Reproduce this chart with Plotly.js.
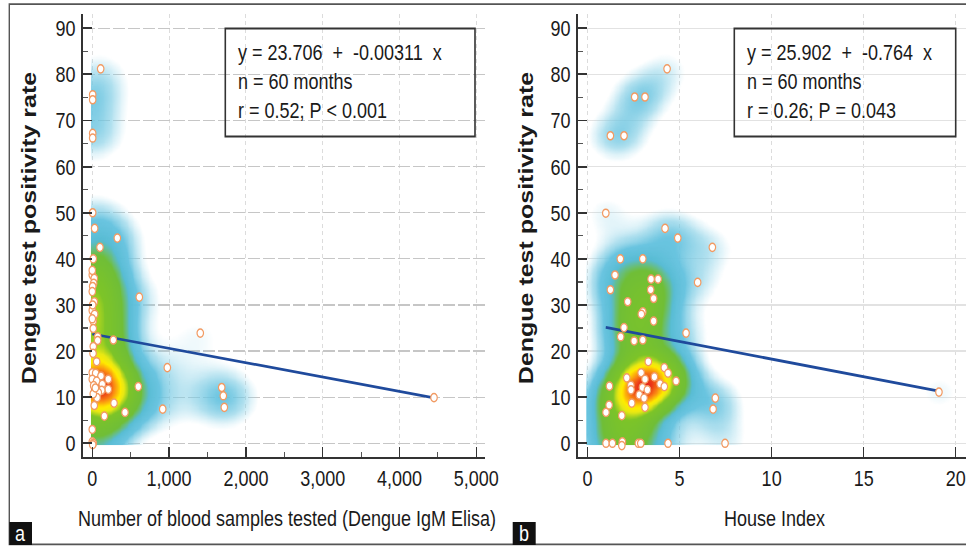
<!DOCTYPE html>
<html><head><meta charset="utf-8">
<script src="https://cdn.plot.ly/plotly-3.0.1.min.js"></script>
<style>
html,body{margin:0;padding:0;background:#fff;overflow:hidden;}
#wrap{width:966px;height:546px;overflow:hidden;position:relative;}
#chart{width:966px;height:437px;transform:scaleY(1.24943);transform-origin:0 0;}
</style></head><body><div id="wrap"><div id="chart"></div></div>
<script>
// ---------- data ----------
const samplesX = [109,5,5,5,5,5,31,326,100,13,0,26,18,5,0,26,612,0,31,13,13,1406,70,70,274,57,977,0,44,113,0,208,57,18,130,208,122,78,62,13,26,599,1685,1706,1719,917,283,426,157,0,13,5,4449,0,5,0,13,40,0,10];
const samplesY = [81.2,75.6,74.5,67.2,66.2,50.0,46.6,44.5,42.5,40.0,36.5,35.8,34.7,34.0,32.9,30.7,31.7,28.8,28.0,26.5,24.9,23.9,23.1,22.3,22.4,17.7,16.4,15.3,15.2,14.6,13.9,13.9,13.5,12.5,12.8,11.7,11.5,11.0,9.9,10.7,8.2,12.3,12.1,10.3,7.8,7.4,8.7,6.7,5.9,0.3,0.0,-0.3,9.9,37.5,30.0,27.0,21.0,12.0,3.0,19.5];
const houseX = [4.32,2.56,3.12,1.24,1.98,0.99,4.21,4.90,6.78,1.78,3.00,1.49,3.45,3.83,1.24,3.43,3.59,5.98,2.18,3.00,2.92,3.59,1.98,1.80,5.35,2.53,3.00,3.30,4.17,4.37,2.91,3.63,2.13,4.81,3.12,3.94,1.19,2.35,2.36,2.98,3.25,4.17,2.81,3.07,6.94,2.40,1.17,3.12,6.82,1.00,1.86,1.00,1.35,1.89,1.86,2.76,2.89,4.37,7.47,19.09];
const houseY = [81.2,75.1,75.1,66.7,66.7,49.9,46.6,44.5,42.5,40.0,40.0,36.5,35.6,35.6,33.3,33.3,31.4,34.9,30.7,28.5,28.0,26.5,25.1,23.1,23.9,22.2,22.4,17.7,16.4,15.2,15.3,14.4,14.2,13.5,13.9,12.9,12.4,12.6,11.6,12.1,11.6,12.3,10.5,9.8,9.8,8.7,8.3,7.8,7.4,6.7,6.0,0,0,0.3,-0.5,0,0,0,0,11.1];
const fitA = [23.706, -0.00311];   // intercept, slope
const fitB = [25.902, -0.764];
const statsA = ["y = 23.706  +  -0.00311  x", "n = 60 months", "r = 0.52; P < 0.001"];
const statsB = ["y = 25.902  +  -0.764  x", "n = 60 months", "r = 0.26; P = 0.043"];
const yTicks = [0,10,20,30,40,50,60,70,80,90];
const xTicksA = [0,1000,2000,3000,4000,5000];
const xTickTextA = ["0","1,000","2,000","3,000","4,000","5,000"];
const xTicksB = [0,5,10,15,20];
const yTitle = "Dengue test positivity rate";
const xTitleA = "Number of blood samples tested (Dengue IgM Elisa)";
const xTitleB = "House Index";

// ---------- geometry (final 966x546 pixel frame) ----------
const W = 966, H = 546;
const rangeXA = [-121, 5113], rangeXB = [-0.52, 20.56], rangeY = [-2.97, 93.1];
const domXA = [83/W, 485/W], domXB = [578/W, 1], domY = [(H-457)/H, (H-14)/H];

function kde(xs, ys, xr, yr, pxW, pxH, sx, sy, nx, ny) {
  const kx = pxW/(xr[1]-xr[0]), ky = pxH/(yr[1]-yr[0]);
  const gx = [], gy = [], z = [];
  for (let i=0;i<nx;i++) gx.push(xr[1]*i/(nx-1));
  for (let j=0;j<ny;j++) gy.push(yr[1]*j/(ny-1));
  let mx = 0;
  for (let j=0;j<ny;j++) {
    const row = [];
    for (let i=0;i<nx;i++) {
      let s = 0;
      for (let k=0;k<xs.length;k++) {
        const dx = (gx[i]-xs[k])*kx/sx, dy = (gy[j]-ys[k])*ky/sy;
        s += Math.exp(-(dx*dx+dy*dy)/2);
      }
      row.push(s); if (s>mx) mx = s;
    }
    z.push(row);
  }
  for (const r of z) for (let i=0;i<r.length;i++) r[i] /= mx;
  return {x: gx, y: gy, z: z};
}

const cs = [
  [0,'rgba(150,215,235,0)'],
  [0.06,'rgba(150,215,235,0)'],
  [0.12,'rgba(125,204,228,0.6)'],
  [0.18,'rgba(98,193,222,0.95)'],
  [0.27,'rgb(88,188,212)'],
  [0.32,'rgb(105,190,120)'],
  [0.36,'rgb(112,190,55)'],
  [0.58,'rgb(125,196,40)'],
  [0.68,'rgb(232,232,20)'],
  [0.75,'rgb(255,236,0)'],
  [0.87,'rgb(250,135,20)'],
  [1,'rgb(230,32,25)']
];

const dA = kde(samplesX, samplesY, rangeXA, rangeY, 402, 443, 24, 20, 150, 160);
const dB = kde(houseX, houseY, rangeXB, rangeY, 388, 443, 21, 19, 150, 160);

function fitLine(xs, f) {
  const a = Math.min(...xs), b = Math.max(...xs);
  return {x:[a,b], y:[f[0]+f[1]*a, f[0]+f[1]*b]};
}
const lA = fitLine(samplesX, fitA), lB = fitLine(houseX, fitB);

const mk = {symbol:'circle', size:6.5, color:'#ffffff', line:{color:'#f29a62', width:1.2}};
const FONT = 'Liberation Sans, Arial, sans-serif';

const traces = [
  {type:'heatmap', x:dA.x, y:dA.y, z:dA.z, colorscale:cs, zmin:0, zmax:1, zsmooth:'best', showscale:false, hoverinfo:'skip', xaxis:'x', yaxis:'y'},
  {type:'heatmap', x:dB.x, y:dB.y, z:dB.z, colorscale:cs, zmin:0, zmax:1, zsmooth:'best', showscale:false, hoverinfo:'skip', xaxis:'x2', yaxis:'y2'},
  {type:'scatter', mode:'lines', x:lA.x, y:lA.y, line:{color:'#1f4a9c', width:2.2}, xaxis:'x', yaxis:'y', hoverinfo:'skip'},
  {type:'scatter', mode:'lines', x:lB.x, y:lB.y, line:{color:'#1f4a9c', width:2.2}, xaxis:'x2', yaxis:'y2', hoverinfo:'skip'},
  {type:'scatter', mode:'markers', x:samplesX, y:samplesY, marker:mk, xaxis:'x', yaxis:'y'},
  {type:'scatter', mode:'markers', x:houseX, y:houseY, marker:mk, xaxis:'x2', yaxis:'y2'}
];

const tickFont = {family:FONT, size:18, color:'#1a1a1a'};
function yAx(dashed, anchor) {
  return {domain:domY, range:rangeY, anchor:anchor, tickvals:yTicks, ticks:'inside', ticklen:9, tickwidth:1.5, tickcolor:'#333',
    showline:true, linecolor:'#333', linewidth:1.8, showgrid:true, gridcolor: dashed ? '#c6c6c6' : '#e2e2e2', griddash: dashed ? '12px,3px' : 'solid', gridwidth:1,
    zeroline:false, tickfont:tickFont, ticklabelstandoff:2,
    minor:{dtick:5, tick0:0, ticks:'inside', ticklen:5, tickwidth:1, tickcolor:'#555', showgrid:false}};
}
function xAx(dom, rng, tv, tt, minorD, anchor) {
  const a = {domain:dom, range:rng, anchor:anchor, tickvals:tv, ticks:'inside', ticklen:8, tickwidth:1.5, tickcolor:'#333',
    showline:true, linecolor:'#333', linewidth:1.7, showgrid:true, gridcolor:'#dcdcdc', griddash:'dot', gridwidth:1,
    zeroline:false, tickfont:tickFont, ticklabelstandoff:0};
  if (tt) a.ticktext = tt;
  if (minorD) a.minor = {dtick:minorD, tick0:0, ticks:'inside', ticklen:4, tickwidth:1, tickcolor:'#555', showgrid:false};
  return a;
}

const px = v => v/W, py = v => (H-v)/H;
const boxLine = {color:'#333', width:1.6};
const shapes = [
  {type:'rect', xref:'paper', yref:'paper', x0:px(9.3), x1:1.02, y0:py(544.3), y1:py(4.2), line:{color:'#555', width:1.4}, layer:'above'},
  {type:'rect', xref:'paper', yref:'paper', x0:px(225.3), x1:px(475), y0:py(136.5), y1:py(28.5), line:boxLine, fillcolor:'rgba(255,255,255,0)', layer:'above'},
  {type:'rect', xref:'paper', yref:'paper', x0:px(734.3), x1:px(955.7), y0:py(136.5), y1:py(28.5), line:boxLine, fillcolor:'rgba(255,255,255,0)', layer:'above'},
  {type:'rect', xref:'paper', yref:'paper', x0:px(9.3), x1:px(32), y0:py(545), y1:py(522), line:{width:0}, fillcolor:'#111', layer:'above'},
  {type:'rect', xref:'paper', yref:'paper', x0:px(512.7), x1:px(535.7), y0:py(545), y1:py(522), line:{width:0}, fillcolor:'#111', layer:'above'}
];
const nb = s => s.replace(/ /g,'\u00a0');
const annFont = {family:FONT, size:18, color:'#1a1a1a'};
const annotations = [
  {xref:'paper', yref:'paper', x:px(236), y:py(81.5), xanchor:'left', yanchor:'middle', align:'left', showarrow:false, text:statsA.map(nb).join('<br>'), font:annFont},
  {xref:'paper', yref:'paper', x:px(745), y:py(81.5), xanchor:'left', yanchor:'middle', align:'left', showarrow:false, text:statsB.map(nb).join('<br>'), font:annFont},
  {xref:'paper', yref:'paper', x:px(29), y:py(228), xanchor:'center', yanchor:'middle', textangle:-90, showarrow:false, text:yTitle, font:{family:FONT, size:20, weight:'bold', color:'#1a1a1a'}},
  {xref:'paper', yref:'paper', x:px(526), y:py(228), xanchor:'center', yanchor:'middle', textangle:-90, showarrow:false, text:yTitle, font:{family:FONT, size:20, weight:'bold', color:'#1a1a1a'}},
  {xref:'paper', yref:'paper', x:px(286.5), y:py(519), xanchor:'center', yanchor:'middle', showarrow:false, text:xTitleA, font:{family:FONT, size:18, color:'#1a1a1a'}},
  {xref:'paper', yref:'paper', x:px(774), y:py(519), xanchor:'center', yanchor:'middle', showarrow:false, text:xTitleB, font:{family:FONT, size:18, color:'#1a1a1a'}},
  {xref:'paper', yref:'paper', x:px(20.6), y:py(533.5), xanchor:'center', yanchor:'middle', showarrow:false, text:'a', font:{family:FONT, size:18, color:'#ffffff'}},
  {xref:'paper', yref:'paper', x:px(524.2), y:py(533.5), xanchor:'center', yanchor:'middle', showarrow:false, text:'b', font:{family:FONT, size:18, color:'#ffffff'}}
];

const layout = {
  width:966, height:437, margin:{l:0,r:0,t:0,b:0}, paper_bgcolor:'#fff', plot_bgcolor:'#fff', showlegend:false,
  xaxis: xAx(domXA, rangeXA, xTicksA, xTickTextA, 500, 'y'),
  yaxis: yAx(true, 'x'),
  xaxis2: xAx(domXB, rangeXB, xTicksB, null, null, 'y2'),
  yaxis2: yAx(false, 'x2'),
  shapes: shapes, annotations: annotations
};
Plotly.newPlot('chart', traces, layout, {staticPlot:true, displayModeBar:false});
</script></body></html>
